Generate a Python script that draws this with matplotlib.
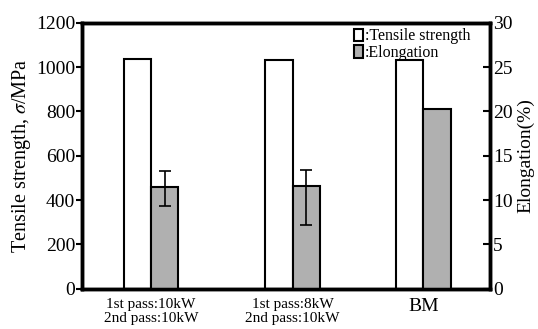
import numpy as np
import matplotlib.pyplot as plt

plt.rcParams['font.family'] = ['Liberation Serif', 'DejaVu Serif']
plt.rcParams['mathtext.fontset'] = 'stix'

conditions = ['1st pass:10kW\n2nd pass:10kW', '1st pass:8kW\n2nd pass:10kW', 'BM']
tensile = [1035, 1032, 1030]          # MPa
elongation = [11.5, 11.6, 20.3]       # %
elong_err_low = [2.2, 4.4, 0]
elong_err_high = [1.8, 1.75, 0]


def draw():
    fig = plt.figure(figsize=(5.38, 3.29), dpi=100)
    ax = fig.add_axes([0.1524, 0.1225, 0.7584, 0.8085])
    ax2 = ax.twinx()

    x = np.array([0, 1.04, 2])
    width = 0.2
    b1 = ax.bar(x - width / 2, tensile, width, color='white',
                edgecolor='black', linewidth=1.5, zorder=2)
    b2 = ax2.bar(x + width / 2, elongation, width, color='#b0b0b0',
                 edgecolor='black', linewidth=1.5, zorder=2)
    ax2.errorbar(x[:2] + width / 2, elongation[:2],
                 yerr=[elong_err_low[:2], elong_err_high[:2]],
                 fmt='none', ecolor='black', elinewidth=1.2,
                 capsize=4, capthick=1.2, zorder=3)

    ax.set_xlim(-0.507, 2.49)
    ax.set_ylim(0, 1200)
    ax.set_yticks(np.arange(0, 1201, 200))
    ax2.set_ylim(0, 30)
    ax2.set_yticks(np.arange(0, 31, 5))

    ax.set_xticks(x)
    ax.set_xticklabels(conditions)
    for i, lab in enumerate(ax.get_xticklabels()):
        lab.set_fontsize(14 if i == 2 else 11)
        lab.set_linespacing(1.05)
    ax.tick_params(axis='x', length=0, pad=7)
    ax.tick_params(axis='y', labelsize=14, direction='out', length=4,
                   width=1.5, pad=1)
    ax2.tick_params(axis='y', labelsize=14, direction='in', length=5,
                    width=1.5, pad=2)

    ax.set_ylabel(r'Tensile strength, $\sigma$/MPa', fontsize=14.5, labelpad=2)
    ax2.set_ylabel('Elongation(%)', fontsize=14, labelpad=3)

    for a in (ax, ax2):
        for s in a.spines.values():
            s.set_linewidth(2.5)

    ax.legend([b1, b2], [':Tensile strength', ':Elongation'],
              loc='upper right', bbox_to_anchor=(0.975, 1.015), frameon=False,
              fontsize=11.5, handlelength=0.6, handleheight=0.8,
              handletextpad=0.1, labelspacing=0.05, borderaxespad=0.2)
    return fig


fig = draw()
fig.savefig('out.png', dpi=100)
